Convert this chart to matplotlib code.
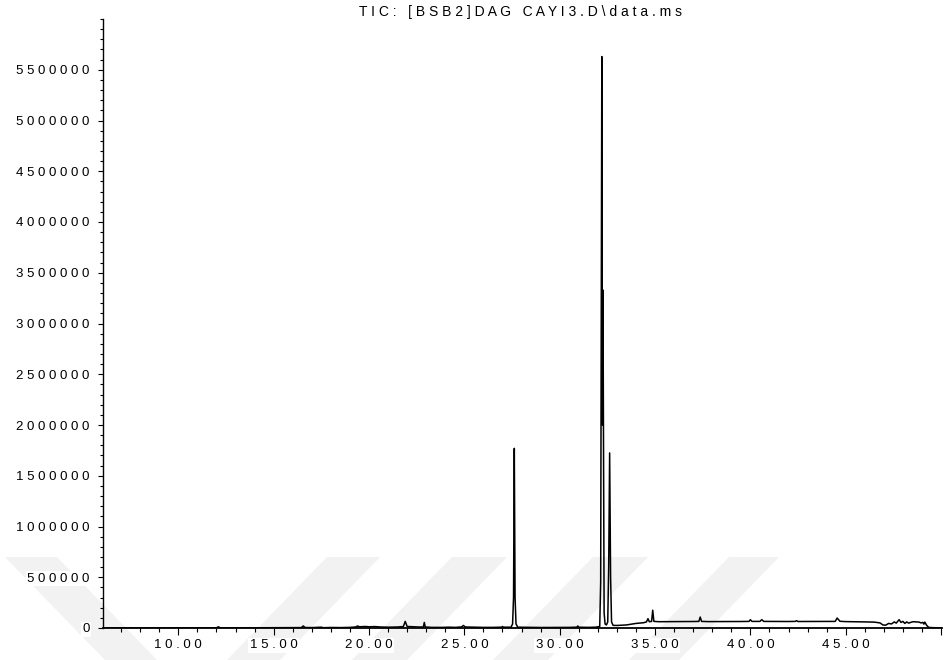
import matplotlib
matplotlib.use('Agg')
import matplotlib.pyplot as plt
from matplotlib.patches import Polygon
from matplotlib.ticker import MultipleLocator, FixedLocator, FuncFormatter

plt.rcParams['font.family'] = ['Liberation Sans', 'DejaVu Sans']

title = 'TIC: [BSB2]DAG CAYI3.D\\data.ms'

# retention time (min) and total ion current (counts)
rt = [6.05, 7.0, 8.0, 9.0, 10.0, 11.0, 12.0, 12.1, 12.2, 13.0, 14.0, 15.0,
      16.0, 16.45, 16.55, 16.65, 17.0, 17.5, 17.6, 18.0, 18.5, 19.0, 19.3,
      19.4, 19.5, 19.8, 20.0, 20.3, 20.6, 21.0, 21.5, 21.8, 21.9, 22.0, 22.3,
      22.6, 22.85, 22.9, 22.95, 23.3, 23.8, 24.2, 24.5, 24.85, 24.95, 25.05,
      25.5, 26.0, 26.5, 26.95, 27.0, 27.05, 27.45, 27.53, 27.58, 27.62, 27.66,
      27.71, 27.8, 28.5, 29.0, 29.5, 30.0, 30.5, 30.9, 30.95, 31.0, 31.5,
      31.9, 32.1, 32.15, 32.21, 32.24, 32.27, 32.33, 32.38, 32.45, 32.52,
      32.57, 32.62, 32.67, 32.72, 32.8, 33.0, 33.5, 34.0, 34.4, 34.55, 34.63,
      34.7, 34.82, 34.88, 34.94, 35.2, 35.6, 36.0, 36.5, 37.0, 37.3, 37.37,
      37.44, 37.8, 38.5, 39.0, 39.5, 39.93, 40.0, 40.08, 40.5, 40.6, 40.7,
      41.5, 42.0, 42.35, 42.42, 42.5, 43.0, 43.5, 44.0, 44.45, 44.55, 44.7,
      45.0, 45.5, 46.0, 46.5, 46.8, 46.95, 47.1, 47.25, 47.4, 47.55, 47.65,
      47.8, 47.9, 48.0, 48.1, 48.2, 48.3, 48.45, 48.55, 48.7, 48.85, 48.95,
      49.05, 49.1, 49.15, 49.25, 49.35, 49.6, 50.05]
tic = [0, 2000, 1000, 1500, 1000, 1500, 2000, 12000, 2000, 1500, 2000, 2000,
       3000, 4000, 20000, 5000, 4000, 8000, 3000, 5000, 4000, 6000, 10000,
       20000, 12000, 15000, 12000, 14000, 10000, 8000, 10000, 14000, 65000,
       15000, 12000, 10000, 10000, 55000, 10000, 6000, 6000, 8000, 6000,
       10000, 25000, 10000, 8000, 6000, 6000, 8000, 15000, 8000, 8000, 40000,
       300000, 1770000, 300000, 40000, 8000, 6000, 5000, 5000, 5000, 6000,
       8000, 20000, 8000, 6000, 8000, 15000, 455000, 5630000, 2000000,
       3330000, 150000, 40000, 30000, 60000, 600000, 1725000, 500000, 60000,
       26000, 25000, 30000, 45000, 52000, 60000, 92000, 62000, 65000, 175000,
       65000, 62000, 63000, 63000, 63000, 64000, 65000, 108000, 65000, 63000,
       63000, 64000, 64000, 65000, 82000, 65000, 65000, 82000, 65000, 64000,
       64000, 65000, 72000, 64000, 64000, 63000, 63000, 65000, 98000, 66000,
       63000, 62000, 60000, 58000, 50000, 30000, 28000, 45000, 40000, 60000,
       48000, 82000, 55000, 65000, 45000, 60000, 48000, 58000, 62000, 60000,
       58000, 50000, 55000, 38000, 58000, 25000, 6000, 3000, 2000]

y_ticks = [0, 500000, 1000000, 1500000, 2000000, 2500000, 3000000, 3500000,
           4000000, 4500000, 5000000, 5500000]
x_ticks = [10, 15, 20, 25, 30, 35, 40, 45, 50]
x_labels = ['10.00', '15.00', '20.00', '25.00', '30.00', '35.00', '40.00',
            '45.00', '']


def spaced(s):
    return ' '.join(s)


fig = plt.figure(figsize=(9.46, 6.6), dpi=100)
ax = fig.add_axes([103 / 946, 32 / 660, 839 / 946, 609 / 660])
ax.patch.set_alpha(0)

# faint diagonal bands behind the plot
W, H = 946, 660
bands = [((5, 57), 100), ((327, 380), -100), ((452, 507), -100),
         ((593, 648), -100), ((729, 779), -100)]
for (x0, x1), dx in bands:
    pts = [(x0, 557), (x1, 557), (x1 + dx, 660), (x0 + dx, 660)]
    fig.patches.append(Polygon([(px / W, 1 - py / H) for px, py in pts],
                               closed=True, transform=fig.transFigure,
                               facecolor='#f2f2f2', edgecolor='none',
                               zorder=-1))

ax.plot(rt, tic, color='black', lw=1.1)

ax.set_xlim(6.05, 50.05)
ax.set_ylim(0, 6.0e6)

for side in ('top', 'right'):
    ax.spines[side].set_visible(False)
ax.spines['left'].set_linewidth(1.0)
ax.spines['bottom'].set_linewidth(1.3)

ax.xaxis.set_major_locator(FixedLocator(x_ticks))
ax.xaxis.set_minor_locator(MultipleLocator(1))
ax.set_xticklabels([spaced(s) for s in x_labels])
ax.yaxis.set_major_locator(FixedLocator(y_ticks))
ax.yaxis.set_minor_locator(MultipleLocator(100000))
ax.yaxis.set_major_formatter(FuncFormatter(lambda v, p: spaced(str(int(v)))))

ax.tick_params(axis='x', which='major', length=5, width=0.8, pad=3,
               labelsize=9.5)
ax.tick_params(axis='x', which='minor', length=3, width=0.8)
ax.tick_params(axis='y', which='major', length=3.6, width=0.8, pad=6,
               labelsize=9.5)
ax.tick_params(axis='y', which='minor', length=2.2, width=0.8)

for lab in ax.get_xticklabels() + ax.get_yticklabels():
    lab.set_bbox(dict(facecolor='white', edgecolor='none', pad=1))

fig.text(520 / W, 1 - 12 / H, spaced(title), ha='center', va='center',
         fontsize=10)

fig.savefig('out.png', dpi=100)
